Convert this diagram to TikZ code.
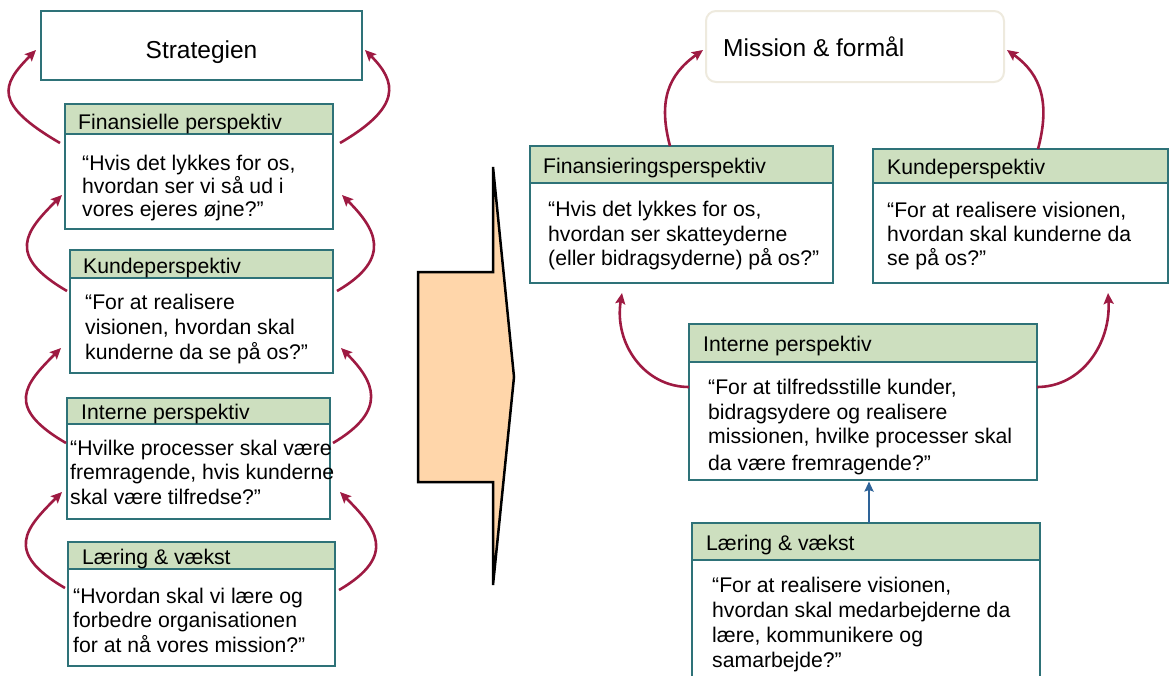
\documentclass[tikz,border=0pt]{standalone}
\usepackage{fontspec}
\setmainfont{Liberation Sans}
\usetikzlibrary{arrows.meta}
\definecolor{frame}{RGB}{46,114,120}
\definecolor{headgreen}{RGB}{205,223,191}
\definecolor{crimson}{RGB}{158,26,66}
\definecolor{peach}{RGB}{255,214,170}
\definecolor{steel}{RGB}{46,99,152}
\definecolor{paleedge}{RGB}{238,234,222}
\begin{document}
\begin{tikzpicture}[x=1pt,y=-1pt,
  panel/.style={rectangle, draw=frame, line width=2.6pt, fill=white, inner sep=0pt, outer sep=0pt, anchor=north west},
  headpanel/.style={panel, fill=headgreen},
  txt/.style={font=\fontsize{21.2}{24.5}\selectfont, inner sep=0pt, anchor=base west, align=left},
  bigtxt/.style={font=\fontsize{24.5}{28}\selectfont, inner sep=0pt},
  feedback/.style={draw=crimson, line width=2.6pt, -{Stealth[length=11pt,width=10pt,inset=2pt]}},
  liftarrow/.style={draw=steel, line width=2.5pt, -{Stealth[length=10pt,width=9pt,inset=1.5pt]}}
]
\useasboundingbox (0,0) rectangle (1169,675);

% ---------- left column: the classic scorecard ----------
% (multi-line texts are placed by the baseline of their last line)
\node[panel, minimum width=321pt, minimum height=69pt] (strat) at (41,11) {};
\node[bigtxt, anchor=base] (stratT) at (201.5,58.3) {Strategien};

\node[panel, minimum width=268pt, minimum height=95pt] (lfin) at (65,134) {};
\node[headpanel, minimum width=268pt, minimum height=30pt] (lfinh) at (65,104) {};
\node[txt] (lfinhT) at (78,129) {Finansielle perspektiv};
\node[txt, font=\fontsize{21.2}{23.3}\selectfont] (lfinT) at (82,216.6) {“Hvis det lykkes for os,\\hvordan ser vi så ud i\\vores ejeres øjne?”};

\node[panel, minimum width=263pt, minimum height=95pt] (lkun) at (70,278) {};
\node[headpanel, minimum width=263pt, minimum height=28pt] (lkunh) at (70,250) {};
\node[txt] (lkunhT) at (83,273) {Kundeperspektiv};
\node[txt, font=\fontsize{21.2}{25}\selectfont] (lkunT) at (85,359) {“For at realisere\\visionen, hvordan skal\\kunderne da se på os?”};

\node[panel, minimum width=263pt, minimum height=95pt] (lint) at (67,424) {};
\node[headpanel, minimum width=263pt, minimum height=26pt] (linth) at (67,398) {};
\node[txt] (linthT) at (81,419) {Interne perspektiv};
\node[txt] (lintT) at (70,504) {“Hvilke processer skal være\\fremragende, hvis kunderne\\skal være tilfredse?”};

\node[panel, minimum width=267pt, minimum height=97pt] (llae) at (68,569) {};
\node[headpanel, minimum width=267pt, minimum height=27pt] (llaeh) at (68,542) {};
\node[txt] (llaehT) at (82,564) {Læring \& vækst};
\node[txt] (llaeT) at (73,652) {“Hvordan skal vi lære og\\forbedre organisationen\\for at nå vores mission?”};

% feedback loops on both sides of the column
\draw[feedback] ([shift={(-5,9)}]lfinh.south west) .. controls +(-67,-39) and +(-35,35) .. ([shift={(-5,4.5)}]strat.west);
\draw[feedback] ([shift={(7,9)}]lfinh.south east) .. controls +(62,-36) and +(32,32) .. ([shift={(3,4.5)}]strat.east);
\draw[feedback] ([shift={(-3,13)}]lkunh.south west) .. controls +(-62,-36) and +(-36,36) .. ([shift={(-3,13.5)}]lfin.west);
\draw[feedback] ([shift={(4,13)}]lkunh.south east) .. controls +(57,-33) and +(33,33) .. ([shift={(9,13.5)}]lfin.east);
\draw[feedback] ([shift={(-1,19)}]linth.south west) .. controls +(-62,-36) and +(-36,36) .. ([shift={(-9,22.5)}]lkun.west);
\draw[feedback] ([shift={(3,19)}]linth.south east) .. controls +(56,-33) and +(33,33) .. ([shift={(8,22.5)}]lkun.east);
\draw[feedback] ([shift={(-3,19)}]llaeh.south west) .. controls +(-62,-36) and +(-36,36) .. ([shift={(-5,20.5)}]lint.west);
\draw[feedback] ([shift={(4,21)}]llaeh.south east) .. controls +(60,-35) and +(35,35) .. ([shift={(10,20.5)}]lint.east);

% ---------- the big block arrow ----------
\draw[fill=peach, draw=black, line width=2.5pt]
  (418,272) -- (493,272) -- (493,167) -- (514,377) -- (493,585) -- (493,482) -- (418,482) -- cycle;

% ---------- right side: the public-sector scorecard ----------
\node[panel, draw=paleedge, line width=2pt, rounded corners=10pt, minimum width=298pt, minimum height=71pt] (mission) at (706,11) {};
\node[bigtxt, anchor=base west] (missionT) at (723,56.7) {Mission \& formål};

\node[panel, minimum width=303pt, minimum height=100pt] (rfin) at (530,183) {};
\node[headpanel, minimum width=303pt, minimum height=37pt] (rfinh) at (530,146) {};
\node[txt] (rfinhT) at (543,173.3) {Finansieringsperspektiv};
\node[txt] (rfinT) at (548,265.7) {“Hvis det lykkes for os,\\hvordan ser skatteyderne\\(eller bidragsyderne) på os?”};

\node[panel, minimum width=295pt, minimum height=100pt] (rkun) at (873,183) {};
\node[headpanel, minimum width=295pt, minimum height=34pt] (rkunh) at (873,149) {};
\node[txt] (rkunhT) at (887,174) {Kundeperspektiv};
\node[txt, font=\fontsize{21.2}{24}\selectfont] (rkunT) at (887,265) {“For at realisere visionen,\\hvordan skal kunderne da\\se på os?”};

\node[panel, minimum width=348pt, minimum height=118pt] (rint) at (689,362) {};
\node[headpanel, minimum width=348pt, minimum height=38pt] (rinth) at (689,324) {};
\node[txt] (rinthT) at (703,351.7) {Interne perspektiv};
\node[txt] (rintT) at (708,470.5) {“For at tilfredsstille kunder,\\bidragsydere og realisere\\missionen, hvilke processer skal\\[2.5pt]da være fremragende?”};

\node[panel, minimum width=348pt, minimum height=130pt] (rlae) at (692,560) {};
\node[headpanel, minimum width=348pt, minimum height=37pt] (rlaeh) at (692,523) {};
\node[txt] (rlaehT) at (706,550) {Læring \& vækst};
\node[txt, font=\fontsize{21.2}{25}\selectfont] (rlaeT) at (712,667.7) {“For at realisere visionen,\\hvordan skal medarbejderne da\\lære, kommunikere og\\samarbejde?”};

% connectors
\draw[feedback] ([shift={(-11.5,0)}]rfinh.north) .. controls +(-12,-45) and +(-35,25) .. ([shift={(-3,3.5)}]mission.west);
\draw[feedback] ([shift={(17.5,0)}]rkunh.north) .. controls +(12,-45) and +(35,25) .. ([shift={(3,3.5)}]mission.east);
\draw[feedback] ([shift={(0,25)}]rinth.south west) .. controls +(-45,0) and +(-8,50) .. ([shift={(92,10)}]rfin.south west);
\draw[feedback] ([shift={(0,25)}]rinth.south east) .. controls +(45,0) and +(3,50) .. ([shift={(-60,10)}]rkun.south east);
\draw[liftarrow] ([shift={(3,0)}]rlaeh.north) -- ([shift={(6,1.5)}]rint.south);
\end{tikzpicture}
\end{document}
